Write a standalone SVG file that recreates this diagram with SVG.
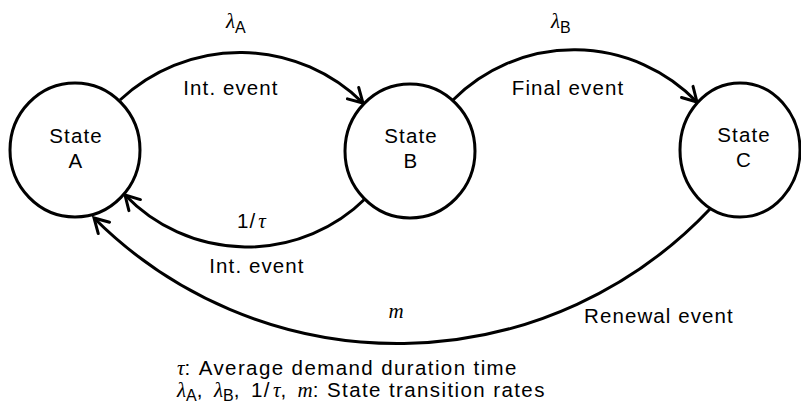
<svg xmlns="http://www.w3.org/2000/svg" width="801" height="403" viewBox="0 0 801 403">
<defs>
<style>
.node{fill:#fff;stroke:#000;stroke-width:3}
.edge{fill:none;stroke:#000;stroke-width:3}
.t{font-family:"Liberation Sans",Arial,sans-serif;font-size:20.5px;letter-spacing:1.1px;fill:#000}
.b{letter-spacing:1.4px}
.m{font-family:"Liberation Serif","Times New Roman",serif;font-style:italic;font-size:21px;letter-spacing:0;fill:#000}
.sub{font-family:"Liberation Sans",Arial,sans-serif;font-size:16px;letter-spacing:0;fill:#000}
.c{text-anchor:middle}
</style>
<marker id="arr" markerUnits="userSpaceOnUse" markerWidth="30" markerHeight="30" refX="0" refY="0" viewBox="-16 -15 20 30" orient="auto" overflow="visible">
<path d="M-14,-8 L0,0 L-14,8" fill="none" stroke="#000" stroke-width="3" stroke-linecap="round" stroke-linejoin="miter"/>
</marker>
</defs>
<rect width="801" height="403" fill="#fff"/>
<g id="connectors">
<path class="edge" d="M120,100 A175 175 0 0 1 363,103" marker-end="url(#arr)"/>
<path class="edge" d="M453,100 A171 171 0 0 1 697,102" marker-end="url(#arr)"/>
<path class="edge" d="M366,198 A169 169 0 0 1 125,195" marker-end="url(#arr)"/>
<path class="edge" d="M710,209 A430 430 0 0 1 94,218" marker-end="url(#arr)"/>
</g>
<g id="stateA">
<ellipse class="node" cx="75" cy="150" rx="65" ry="67"/>
<text class="t c" x="76" y="143">State</text>
<text class="t c" x="76" y="168">A</text>
</g>
<g id="stateB">
<ellipse class="node" cx="410" cy="151" rx="65" ry="67"/>
<text class="t c" x="411" y="143">State</text>
<text class="t c" x="411" y="168">B</text>
</g>
<g id="stateC">
<ellipse class="node" cx="740" cy="150" rx="60" ry="67"/>
<text class="t c" x="744" y="142">State</text>
<text class="t c" x="744" y="167">C</text>
</g>
<g id="labels">
<text x="226" y="28"><tspan class="m">λ</tspan><tspan class="sub" dy="5">A</tspan></text>
<text x="551" y="28"><tspan class="m">λ</tspan><tspan class="sub" dy="5">B</tspan></text>
<text class="t c" x="231" y="95">Int. event</text>
<text class="t c" x="568" y="95">Final event</text>
<text class="t" x="237" y="228">1/<tspan class="m" dx="2">τ</tspan></text>
<text class="t c" x="257" y="273">Int. event</text>
<text class="m c" x="396" y="318">m</text>
<text class="t" x="584" y="323">Renewal event</text>
<text class="t b" x="177" y="375"><tspan class="m">τ</tspan>: Average demand duration time</text>
<text class="t b" x="177" y="397"><tspan class="m">λ</tspan><tspan class="sub" dy="4">A</tspan><tspan dy="-4">, </tspan><tspan class="m" dx="3">λ</tspan><tspan class="sub" dy="4">B</tspan><tspan dy="-4">, </tspan><tspan dx="3">1/</tspan><tspan class="m" dx="2">τ</tspan>, <tspan class="m" dx="3">m</tspan>: State transition rates</text>
</g>
</svg>
